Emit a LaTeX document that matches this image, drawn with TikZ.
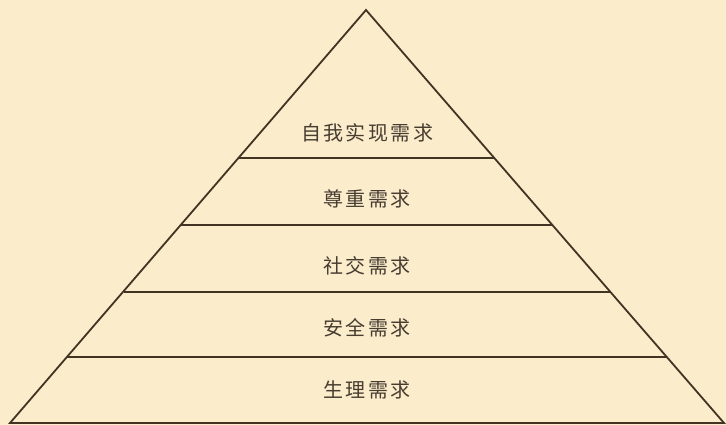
\documentclass[tikz,border=0pt]{standalone}
\usepackage{fontspec}
\newfontfamily\cjk[LetterSpace=12]{Noto Sans CJK SC}
\definecolor{bg}{RGB}{251,236,204}
\definecolor{ink}{RGB}{66,52,34}
\definecolor{txt}{RGB}{70,60,48}
\tikzset{
  lvl/.style={font=\cjk\fontsize{20}{22}\selectfont, text=txt, inner sep=0pt, xshift=1.2pt},
  edge/.style={draw=ink, line width=1.8pt, line join=miter},
  sep/.style={draw=ink, line width=1.4pt}
}
\begin{document}
\begin{tikzpicture}[x=1pt,y=-1pt]
\fill[bg] (0,0) rectangle (726,425);
\useasboundingbox (0,0) rectangle (726,425);
\coordinate (apex) at (366,10);
\coordinate (bl) at (10,423);
\coordinate (br) at (724,423);
\draw[edge] (bl) -- (apex) -- (br) -- cycle;
\coordinate (l1) at (239,158); \coordinate (r1) at (495,158);
\coordinate (l2) at (181,225); \coordinate (r2) at (553,225);
\coordinate (l3) at (124,292); \coordinate (r3) at (610,292);
\coordinate (l4) at (67,357);  \coordinate (r4) at (667,357);
\draw[sep] (l1) -- (r1);
\draw[sep] (l2) -- (r2);
\draw[sep] (l3) -- (r3);
\draw[sep] (l4) -- (r4);
\node[lvl] (n1) at (366,133) {自我实现需求};
\node[lvl] (n2) at (366,199) {尊重需求};
\node[lvl] (n3) at (366,266) {社交需求};
\node[lvl] (n4) at (366,328) {安全需求};
\node[lvl] (n5) at (366,390) {生理需求};
\end{tikzpicture}
\end{document}
